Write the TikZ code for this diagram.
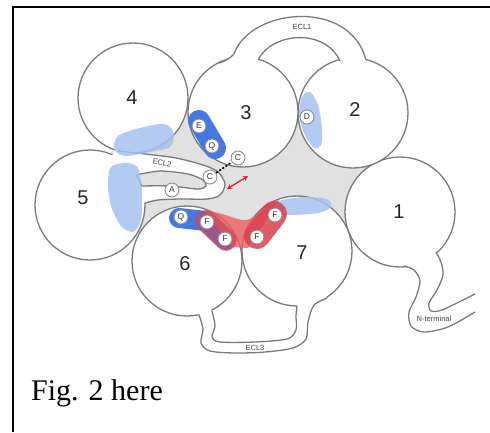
\documentclass[tikz,border=0pt]{standalone}
\usepackage{fontspec}
\setmainfont{Liberation Serif}
\newfontfamily\sans{Liberation Sans}
\usetikzlibrary{arrows.meta}

\definecolor{outline}{HTML}{7A7A7A}
\definecolor{resline}{HTML}{8C8C8C}
\definecolor{cavity}{HTML}{E1E1E1}
\definecolor{panel}{HTML}{FDFDFD}
\definecolor{paleblue}{HTML}{A6C2F2}
\definecolor{deepblue}{HTML}{4679DF}
\definecolor{pinkred}{HTML}{EF5F60}
\definecolor{deepred}{HTML}{D9404E}
\definecolor{arrowred}{HTML}{E01B1B}

\begin{document}
\begin{tikzpicture}[x=1pt,y=-1pt,
  helix/.style={circle, minimum size=110pt, inner sep=0pt, draw=outline, fill=white, line width=1.3pt},
  num/.style={font=\sans\fontsize{20}{20}\selectfont, text=black!85, inner sep=0pt},
  res/.style={circle, minimum size=14pt, inner sep=0pt, draw=resline, fill=white, line width=0.9pt,
              font=\sans\fontsize{8.5}{9}\selectfont, text=black!80},
  loopline/.style={draw=outline, line width=1.3pt},
  looplabel/.style={font=\sans\fontsize{7.5}{8}\selectfont, text=black!75, inner sep=0pt},
  blob/.style={fill=paleblue, opacity=0.85},
]
\useasboundingbox (0,0) rectangle (490,432);
\fill[white] (0,0) rectangle (490,432);
\draw[line width=1.6pt] (13,432) -- (13,7) -- (490,7);

% central cavity between the seven helices
\fill[cavity] (188,105) -- (298,112) -- (376,163) -- (348,231) -- (242,256)
  -- (138,233) -- (111,152) -- cycle;

% transmembrane helices
\node[helix] (tm1) at (400,212) {};
\node[helix] (tm2) at (353,113) {};
\node[helix] (tm3) at (243,112) {};
\node[helix] (tm4) at (133,98) {};
\node[helix] (tm5) at (90,205) {};
\node[helix] (tm6) at (187,261) {};
\node[helix] (tm7) at (297,251) {};

% ECL1
\fill[white] (219,63) .. controls (226,61) and (230,58) .. (234,54)
  .. controls (250,8) and (350,-2) .. (366,60) -- (362,65) -- (341,65) -- (340,61)
  .. controls (325,28) and (272,32) .. (258,60) -- (256,65) -- (222,67) -- cycle;
\draw[loopline] (219,63) .. controls (226,61) and (230,58) .. (234,54)
  .. controls (250,8) and (350,-2) .. (366,60);
\draw[loopline] (258,60) .. controls (272,32) and (325,28) .. (340,61);

% ECL2 hairpin
\fill[white] plot[smooth] coordinates {(118,151) (145,154) (176,158) (203,165) (218,172)
    (225,184) (220,195) (207,199) (180,199) (158,200) (145,203)}
  -- (139,199)
  -- plot[smooth] coordinates {(141,186) (170,186) (198,189) (206,186) (203,180) (188,174)
    (160,171) (136,175)}
  -- (128,168) -- (112,156) -- (116,148) -- cycle;
\draw[loopline] plot[smooth] coordinates {(118,151) (145,154) (176,158) (203,165) (218,172)
    (225,184) (220,195) (207,199) (180,199) (158,200) (145,203)};
\draw[loopline] plot[smooth] coordinates {(136,175) (160,171) (188,174) (203,180) (206,186)
    (198,189) (170,186) (141,186)};

% ECL3
\fill[white] plot[smooth] coordinates {(199,315) (203,329) (201,343) (210,351) (235,353)
    (265,352) (293,348) (306,339) (308,322) (314,305) (327,298)}
  -- (322,294) -- (297,300)
  -- plot[smooth] coordinates {(297,306) (296,316) (296,330) (287,339) (255,342) (220,342)
    (212,337) (215,326) (212,311)}
  -- (208,306) -- (198,310) -- cycle;
\draw[loopline] plot[smooth] coordinates {(199,315) (203,329) (201,343) (210,351) (235,353)
    (265,352) (293,348) (306,339) (308,322) (314,305) (327,298)};
\draw[loopline] plot[smooth] coordinates {(212,311) (215,326) (212,337) (220,342) (255,342)
    (287,339) (296,330) (296,316) (297,306)};

% N-terminal tail
\fill[white] plot[smooth] coordinates {(404,266) (414,270) (420,281) (416,297) (409,312)
    (411,326) (424,332) (448,327) (475,312)}
  -- plot[smooth] coordinates {(475,294) (461,301) (442,310) (431,311) (429,303) (437,290)
    (443,275) (441,262) (436,252)}
  -- (430,249) -- (405,261) -- cycle;
\draw[loopline] plot[smooth] coordinates {(404,266) (414,270) (420,281) (416,297) (409,312)
    (411,326) (424,332) (448,327) (475,312)};
\draw[loopline] plot[smooth] coordinates {(436,252) (441,262) (443,275) (437,290) (429,303)
    (431,311) (442,310) (461,301) (475,294)};

% pale blue patches
\fill[blob] plot[smooth cycle] coordinates {(118,136) (140,128) (165,124) (174,134) (170,147)
    (150,152) (125,156) (114,149)};
\fill[blob] plot[smooth cycle] coordinates {(111,167) (126,163) (138,168) (142,192) (141,220)
    (133,232) (121,226) (111,206) (108,184)};
\fill[blob] plot[smooth cycle] coordinates {(302,97) (310,92) (318,105) (322,128) (321,145)
    (314,148) (305,135) (299,115)};
\fill[blob] plot[smooth cycle] coordinates {(264,208) (282,200) (305,197) (327,199) (331,207)
    (318,213) (290,215) (268,214)};

% deep blue pockets
\draw[deepblue, line width=22pt, line cap=round] (199,121) -- (215,148);
\draw[deepblue, line width=20pt, line cap=round, line join=round] (179,218) -- (206,221) -- (226,240);

% red aromatic cluster
\fill[pinkred, opacity=0.8] (205,211) .. controls (225,212) and (236,221) .. (246,220)
  .. controls (256,219) and (266,205) .. (279,200) -- (248,248) -- (232,247) -- cycle;
\draw[deepred, opacity=0.6, line width=22pt, line cap=round] (206,221) -- (226,240);
\draw[deepred, opacity=0.85, line width=26pt, line cap=round] (257,236) -- (274,214);

% residues
\node[res] (rE) at (199,126) {E};
\node[res] (rQ1) at (212,146) {Q};
\node[res] (rD) at (307,117) {D};
\node[res] (rCu) at (238,158) {C};
\node[res] (rCl) at (210,177) {C};
\node[res] (rA) at (172,190) {A};
\node[res] (rQ2) at (181,217) {Q};
\node[res] (rF1) at (207,222) {F};
\node[res] (rF2) at (225,239) {F};
\node[res] (rF3) at (275,215) {F};
\node[res] (rF4) at (257,237) {F};

% disulfide bond and movement arrow
\draw[line width=1.6pt, dash pattern=on 2pt off 1.8pt] (rCl) -- (rCu);
\coordinate (mv1) at (227,189);
\coordinate (mv2) at (248,176);
\draw[arrowred, line width=1.3pt, {Stealth[length=5pt,width=5pt]}-{Stealth[length=5pt,width=5pt]}] (mv1) -- (mv2);

% helix numbers
\node[num] (n1) at (399,212) {1};
\node[num] (n2) at (355,110) {2};
\node[num] (n3) at (246,113) {3};
\node[num] (n4) at (132,98) {4};
\node[num] (n5) at (83,198) {5};
\node[num] (n6) at (185,264) {6};
\node[num] (n7) at (302,253) {7};

% loop labels
\node[looplabel] (l1) at (302,27) {ECL1};
\node[looplabel, rotate=-12] (l2) at (162,163) {ECL2};
\node[looplabel] (l3) at (255,348) {ECL3};
\node[looplabel] (lN) at (434,319) {N-terminal};

% caption
\node[anchor=base west, inner sep=0pt, font=\fontsize{30}{36}\selectfont] (cap) at (31,400) {Fig. 2 here};
\end{tikzpicture}
\end{document}
